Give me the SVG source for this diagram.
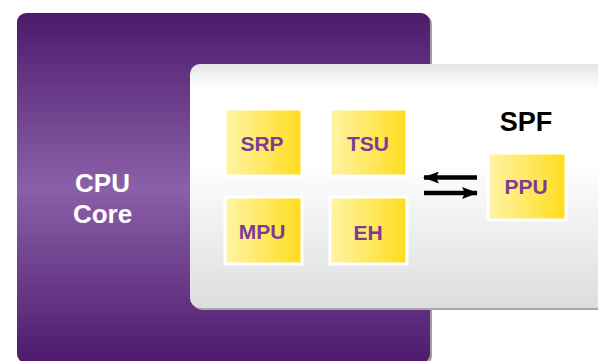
<svg xmlns="http://www.w3.org/2000/svg" width="598" height="361" viewBox="0 0 598 361">
<defs>
<linearGradient id="purple" x1="0" y1="0" x2="0" y2="1">
<stop offset="0" stop-color="#4E1A6C"/>
<stop offset="0.5" stop-color="#8A60A8"/>
<stop offset="1" stop-color="#4E1A6C"/>
</linearGradient>
<linearGradient id="gray" x1="0" y1="0" x2="0" y2="1">
<stop offset="0" stop-color="#E4E5E6"/>
<stop offset="0.1" stop-color="#FFFFFF"/>
<stop offset="0.4" stop-color="#FFFFFF"/>
<stop offset="1" stop-color="#DCDDDF"/>
</linearGradient>
<linearGradient id="yellow" x1="0" y1="0" x2="1" y2="0">
<stop offset="0" stop-color="#FFF4A6"/>
<stop offset="1" stop-color="#FFDC1E"/>
</linearGradient>
<marker id="ah" viewBox="0 0 16 12" refX="15" refY="6" markerWidth="16" markerHeight="12" markerUnits="userSpaceOnUse" orient="auto">
<path d="M0,0 L16,6 L0,12 L3,6 Z" fill="#000"/>
</marker>
<style>
.blk{fill:url(#yellow);stroke:#FFFFFF;stroke-width:3}
.lbl{font-family:"Liberation Sans",Arial,sans-serif;font-weight:bold;font-size:21px;fill:#7B3B96;text-anchor:middle}
.conn{stroke:#000;stroke-width:4.5;fill:none}
</style>
</defs>
<g id="cpu-core">
<rect x="19" y="15" width="413" height="350" rx="9" fill="#A0A0A0"/>
<rect x="17" y="13" width="413" height="350" rx="9" fill="url(#purple)"/>
<text x="102.5" y="192" font-family="Liberation Sans,Arial,sans-serif" font-weight="bold" font-size="26" fill="#FFFFFF" text-anchor="middle">CPU</text>
<text x="102.5" y="223" font-family="Liberation Sans,Arial,sans-serif" font-weight="bold" font-size="26" fill="#FFFFFF" text-anchor="middle">Core</text>
</g>
<g id="spf">
<rect x="192" y="66" width="420" height="244" rx="10" fill="#A8A8A8"/>
<rect x="190" y="64" width="420" height="244" rx="10" fill="url(#gray)"/>
<text x="526" y="131" font-family="Liberation Sans,Arial,sans-serif" font-weight="bold" font-size="27" fill="#000000" text-anchor="middle">SPF</text>
</g>
<g id="srp">
<rect class="blk" x="225" y="109" width="77" height="67"/>
<text class="lbl" x="262" y="151">SRP</text>
</g>
<g id="tsu">
<rect class="blk" x="330" y="109" width="77" height="67"/>
<text class="lbl" x="368" y="151">TSU</text>
</g>
<g id="mpu">
<rect class="blk" x="225" y="197" width="77" height="67"/>
<text class="lbl" x="262" y="239">MPU</text>
</g>
<g id="eh">
<rect class="blk" x="330" y="197" width="77" height="67"/>
<text class="lbl" x="368" y="240">EH</text>
</g>
<g id="ppu">
<rect class="blk" x="488" y="153" width="78" height="67"/>
<text class="lbl" x="526" y="194">PPU</text>
</g>
<g id="connectors">
<line class="conn" x1="477" y1="177.5" x2="424" y2="177.5" marker-end="url(#ah)"/>
<line class="conn" x1="424" y1="193" x2="477" y2="193" marker-end="url(#ah)"/>
</g>
</svg>
